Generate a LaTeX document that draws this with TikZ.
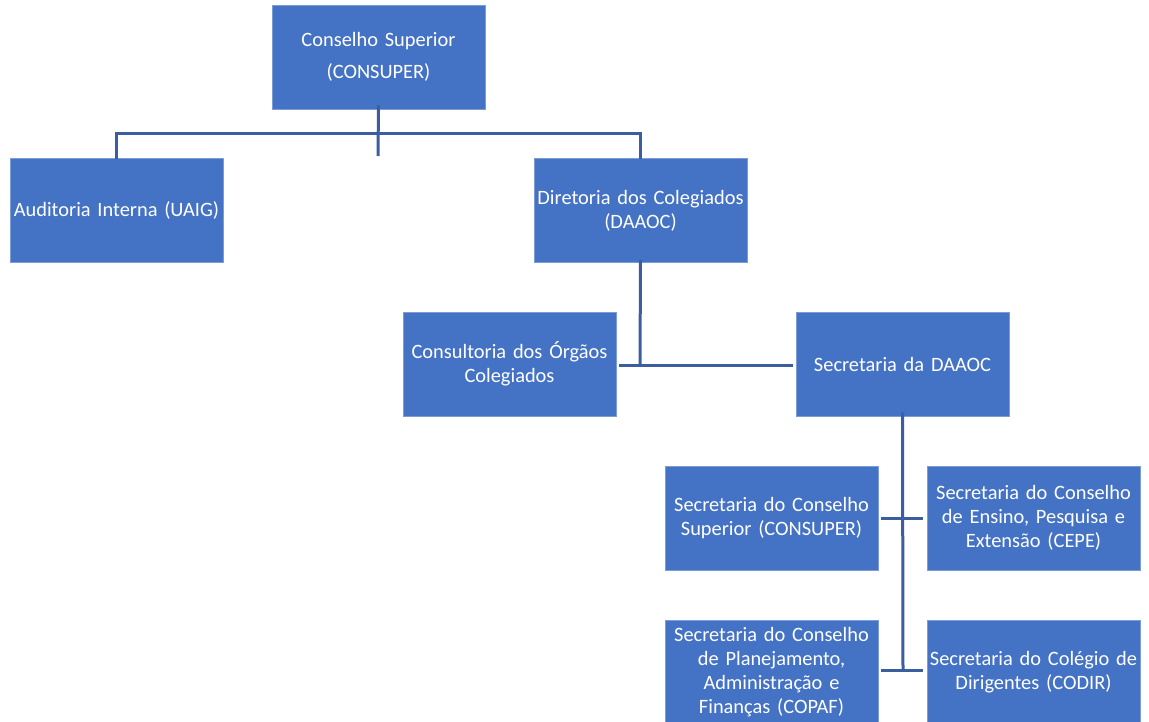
\documentclass[tikz,border=0pt]{standalone}
\usepackage{fontspec}
\setmainfont{Carlito}
\definecolor{boxblue}{RGB}{68,114,196}
\definecolor{lineblue}{RGB}{59,94,160}
\begin{document}
\begin{tikzpicture}[x=1pt,y=-1pt,
  box/.style={fill=boxblue,draw=boxblue!70!white,line width=0.6pt,text=white,minimum width=213pt,minimum height=104pt,
    text width=213pt,align=center,inner sep=0pt,font=\fontsize{20.4}{24}\selectfont},
  conn/.style={draw=lineblue,line width=3pt}]
\useasboundingbox (0,0) rectangle (1149,722);
\node[box,font=\fontsize{20.4}{32}\selectfont] (top) at (378.5,57) {Conselho Superior\\(CONSUPER)};
\node[box] (uaig) at (116.5,210.5) {Auditoria Interna (UAIG)};
\node[box] (daaoc) at (640.5,210.5) {Diretoria dos Colegiados\\(DAAOC)};
\node[box] (cons) at (509.5,364) {Consultoria dos Órgãos\\Colegiados};
\node[box] (sec) at (902.5,364) {Secretaria da DAAOC};
\node[box] (ssup) at (771.5,518) {Secretaria do Conselho\\Superior (CONSUPER)};
\node[box] (cepe) at (1033.5,518) {Secretaria do Conselho\\de Ensino, Pesquisa e\\Extensão (CEPE)};
\node[box] (copaf) at (771.5,672) {Secretaria do Conselho\\de Planejamento,\\Administração e\\Finanças (COPAF)};
\node[box] (codir) at (1033.5,672) {Secretaria do Colégio de\\Dirigentes (CODIR)};
% connectors
\coordinate (bar) at (378,134);
\coordinate (stub) at (378,156);
\draw[conn] ([yshift=4]top.south) -- (stub);
\draw[conn] ([yshift=-1]uaig.north) -- (uaig.north |- bar) -- (daaoc.north |- bar) -- ([yshift=-1]daaoc.north);
\coordinate (mid) at (640,365);
\draw[conn] ([yshift=3]daaoc.south) -- (mid);
\draw[conn] ([xshift=3]cons.east |- mid) -- ([xshift=-3]sec.west |- mid);
\coordinate (bend) at (903,670);
\draw[conn] ([yshift=4]sec.south) -- (bend);
\draw[conn] ([xshift=3]ssup.east) -- ([xshift=-4]cepe.west);
\draw[conn] ([xshift=3]copaf.east |- bend) -- ([xshift=-4]codir.west |- bend);
\end{tikzpicture}
\end{document}
